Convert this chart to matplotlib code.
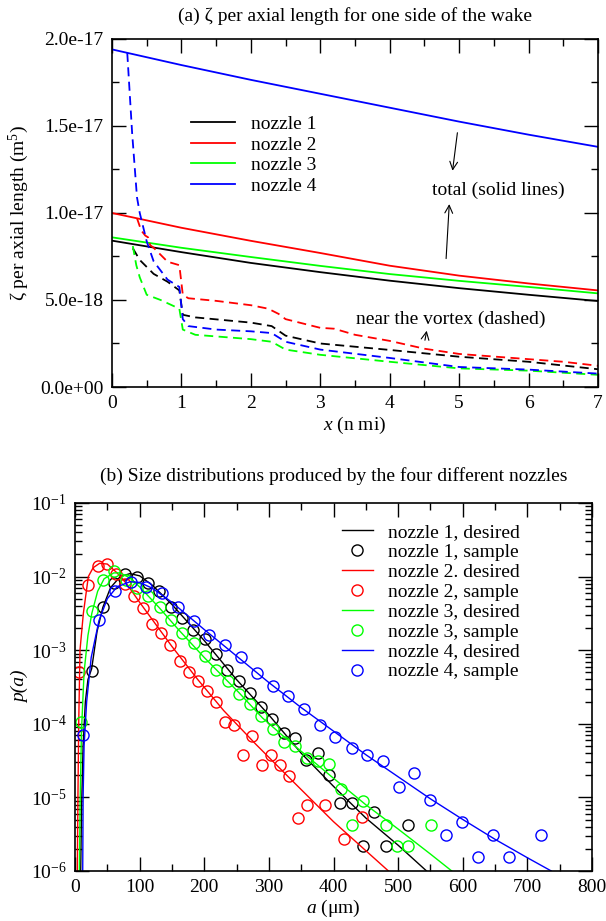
import numpy as np
import matplotlib
matplotlib.use('Agg')
import matplotlib.pyplot as plt
from matplotlib.ticker import MultipleLocator, FuncFormatter, LogLocator, NullFormatter

plt.rcParams['font.family'] = ['Liberation Serif', 'DejaVu Serif']
plt.rcParams['mathtext.fontset'] = 'custom'
plt.rcParams['mathtext.rm'] = 'Liberation Serif'
plt.rcParams['mathtext.it'] = 'Liberation Serif:italic'
plt.rcParams['axes.unicode_minus'] = False
plt.rcParams['font.size'] = 14

# ---------------------------------------------------------------
# (a) zeta per axial length, values in units of 1e-18 m^5
# ---------------------------------------------------------------
x_tot = [0, 1, 2, 3, 4, 5, 6, 7]
tot_n1 = [8.41, 7.75, 7.13, 6.60, 6.11, 5.68, 5.30, 4.94]
tot_n2 = [10.0, 9.15, 8.40, 7.70, 6.97, 6.40, 5.95, 5.55]
tot_n3 = [8.60, 8.00, 7.47, 6.96, 6.49, 6.10, 5.75, 5.38]
tot_n4 = [19.4, 18.5, 17.65, 16.85, 16.05, 15.25, 14.5, 13.8]

x_vor_n1 = [0.30, 0.40, 0.60, 0.80, 0.97, 1.02, 1.20, 2.00, 2.30, 2.50, 3.00, 4.00, 5.00, 6.00, 7.00]
vor_n1 = [7.97, 7.30, 6.50, 6.05, 5.55, 4.15, 4.00, 3.70, 3.50, 2.95, 2.50, 2.13, 1.74, 1.45, 1.02]
x_vor_n2 = [0.36, 0.42, 0.48, 0.52, 0.55, 0.60, 0.80, 0.97, 1.02, 1.10, 1.50, 2.00, 2.25, 2.40,
            2.50, 3.00, 3.20, 3.50, 4.00, 4.50, 5.00, 5.50, 6.00, 6.50, 7.00]
vor_n2 = [9.70, 9.00, 8.70, 8.60, 8.15, 8.00, 7.20, 7.00, 5.30, 5.10, 4.95, 4.70, 4.50, 4.20,
          3.90, 3.40, 3.35, 3.00, 2.65, 2.20, 1.90, 1.75, 1.60, 1.45, 1.22]
x_vor_n3 = [0.30, 0.35, 0.40, 0.50, 0.70, 0.97, 1.02, 1.20, 2.00, 2.30, 2.50, 3.00, 4.00, 5.00, 6.00, 7.00]
vor_n3 = [8.10, 7.00, 6.30, 5.30, 5.00, 4.50, 3.30, 3.00, 2.75, 2.60, 2.15, 1.85, 1.45, 1.07, 0.94, 0.70]
x_vor_n4 = [0.22, 0.29, 0.36, 0.40, 0.50, 0.60, 0.80, 0.97, 1.02, 1.10, 1.50, 2.00, 2.30, 2.40,
            2.50, 3.00, 4.00, 5.00, 6.00, 7.00]
vor_n4 = [19.2, 14.6, 10.9, 10.0, 8.37, 7.22, 6.17, 5.75, 3.90, 3.50, 3.30, 3.20, 3.10, 2.85,
          2.60, 2.15, 1.67, 1.15, 1.00, 0.77]

# ---------------------------------------------------------------
# (b) size distributions, p(a) given as log10 values
# ---------------------------------------------------------------
des_a_n1 = [8.8, 10, 12.5, 16, 20, 25.8, 34, 43, 55, 70, 85, 100, 120, 150, 200, 250, 300, 350, 400, 450, 500, 544]
des_lp_n1 = [-6.0, -5.2, -4.3, -3.7, -3.4, -3.25, -2.75, -2.42, -2.15, -2.0, -1.96, -1.99, -2.12, -2.38,
             -2.87, -3.40, -3.88, -4.40, -4.85, -5.28, -5.65, -6.0]
des_a_n2 = [3.5, 4.5, 5.7, 7.7, 12.9, 20.6, 28, 38, 50, 65, 80, 100, 125, 150, 190, 230, 280, 330, 400, 485]
des_lp_n2 = [-6.0, -5.0, -4.0, -3.0, -2.5, -2.0, -1.88, -1.82, -1.83, -1.95, -2.10, -2.35, -2.65, -2.95,
             -3.40, -3.82, -4.28, -4.72, -5.33, -6.0]
des_a_n3 = [6.7, 8, 10, 14, 20, 26, 35, 45, 60, 70, 85, 100, 130, 160, 200, 254, 290, 333, 400, 450, 500, 550, 583]
des_lp_n3 = [-6.0, -5.0, -4.1, -3.3, -2.8, -2.5, -2.2, -2.03, -1.95, -1.95, -2.02, -2.14, -2.42, -2.72,
             -3.10, -3.58, -3.92, -4.25, -4.74, -5.10, -5.43, -5.77, -6.0]
des_a_n4 = [11.9, 12.5, 14, 18, 25, 37, 50, 65, 85, 100, 120, 150, 200, 250, 300, 350, 400, 450, 500,
            550, 600, 650, 700, 737]
des_lp_n4 = [-6.0, -5.0, -4.3, -3.7, -3.1, -2.6, -2.3, -2.14, -2.07, -2.08, -2.16, -2.35, -2.72, -3.08,
             -3.44, -3.78, -4.10, -4.42, -4.72, -5.02, -5.30, -5.57, -5.82, -6.0]

smp_a_n1 = [25.8, 43, 60.5, 78, 95.5, 113, 130.5, 148, 165.5, 183, 200.5, 218, 235.5, 253, 270.5, 288,
            305.5, 323, 340.5, 358, 375.5, 393, 410.5, 428, 445.5, 463, 480.5, 515.5]
smp_lp_n1 = [-3.28, -2.41, -2.09, -1.97, -2.01, -2.09, -2.20, -2.41, -2.56, -2.72, -2.85, -3.05, -3.27,
             -3.42, -3.58, -3.77, -3.93, -4.12, -4.19, -4.49, -4.40, -4.70, -5.07, -5.07, -5.66, -5.20,
             -5.66, -5.37]
smp_a_n2 = [6.7, 20.8, 34.9, 49, 63.1, 77.2, 91.3, 105.4, 119.5, 133.6, 147.7, 161.8, 175.9, 190, 204.1,
            218.2, 232.3, 246.4, 260.5, 274.6, 288.7, 302.8, 316.9, 331, 345.1, 359.2, 387.4, 415.6, 443.8]
smp_lp_n2 = [-3.29, -2.11, -1.85, -1.83, -1.96, -2.10, -2.27, -2.43, -2.64, -2.77, -2.93, -3.15, -3.30,
             -3.42, -3.56, -3.71, -3.97, -4.02, -4.43, -4.17, -4.56, -4.42, -4.56, -4.71, -5.28, -5.10,
             -5.10, -5.57, -5.27]
smp_a_n3 = [9.5, 26, 43.5, 61, 78.5, 96, 113.5, 131, 148.5, 166, 183.5, 201, 218.5, 236, 253.5, 271,
            288.5, 306, 323.5, 341, 358.5, 376, 393.5, 411, 428.5, 446, 481, 498.5, 516, 551]
smp_lp_n3 = [-3.98, -2.47, -2.04, -1.93, -2.04, -2.16, -2.27, -2.42, -2.59, -2.76, -2.90, -3.08, -3.27,
             -3.42, -3.59, -3.73, -3.90, -4.07, -4.25, -4.30, -4.46, -4.51, -4.55, -4.88, -5.37, -5.05,
             -5.37, -5.66, -5.66, -5.37]
smp_a_n4 = [12.9, 37.3, 61.7, 86, 110.5, 135, 159, 183.7, 208, 232.5, 257, 281, 306, 330, 354.5, 379,
            403, 428, 452, 476.5, 501, 525, 550, 574, 599, 623, 647, 672, 721]
smp_lp_n4 = [-4.15, -2.59, -2.19, -2.07, -2.14, -2.23, -2.41, -2.60, -2.79, -2.93, -3.09, -3.31, -3.49,
             -3.62, -3.80, -4.01, -4.18, -4.33, -4.43, -4.51, -4.86, -4.67, -5.04, -5.51, -5.34, -5.81,
             -5.51, -5.81, -5.51]

colors = ['black', 'red', '#00ff00', 'blue']

fig = plt.figure(figsize=(6.06, 9.21), dpi=100)
ax1 = fig.add_axes([0.1848, 0.5798, 0.802, 0.3779])
ax2 = fig.add_axes([0.1238, 0.0543, 0.8531, 0.3996])

# ----------------------------- (a) -----------------------------
sc = 1e-18
tots = [tot_n1, tot_n2, tot_n3, tot_n4]
vx = [x_vor_n1, x_vor_n2, x_vor_n3, x_vor_n4]
vy = [vor_n1, vor_n2, vor_n3, vor_n4]
for i in range(4):
    ax1.plot(x_tot, np.array(tots[i]) * sc, color=colors[i], lw=1.3, label='nozzle %d' % (i + 1))
for i in range(4):
    ax1.plot(vx[i], np.array(vy[i]) * sc, color=colors[i], lw=1.3, dashes=(5, 3))

ax1.set_xlim(0, 7)
ax1.set_ylim(0, 2e-17)
ax1.xaxis.set_major_locator(MultipleLocator(1))
ax1.xaxis.set_minor_locator(MultipleLocator(0.5))
ax1.yaxis.set_major_locator(MultipleLocator(5e-18))
ax1.yaxis.set_minor_locator(MultipleLocator(2.5e-18))
ax1.yaxis.set_major_formatter(FuncFormatter(lambda v, p: '%.1e' % v))
ax1.yaxis.get_offset_text().set_visible(False)
ax1.set_title('(a) ζ per axial length for one side of the wake', fontsize=14, pad=13)
ax1.set_xlabel('$x$ (n mi)')
ax1.set_ylabel('ζ per axial length (m$^5$)')
ax1.xaxis.set_label_coords(0.5, -0.08)
ax1.yaxis.set_label_coords(-0.167, 0.5)
ax1.legend(loc='upper left', bbox_to_anchor=(0.162, 0.78), frameon=False, borderpad=0,
           borderaxespad=0, handlelength=2.3, handletextpad=0.8, labelspacing=0.15)

ax1.text(5.56, 11.3e-18, 'total (solid lines)', ha='center', va='center')
ax1.annotate('', xy=(4.90, 12.27e-18), xytext=(4.98, 14.77e-18),
             arrowprops=dict(arrowstyle='->', color='black', lw=0.8))
ax1.annotate('', xy=(4.86, 10.67e-18), xytext=(4.81, 7.22e-18),
             arrowprops=dict(arrowstyle='->', color='black', lw=0.8))
ax1.text(4.88, 3.87e-18, 'near the vortex (dashed)', ha='center', va='center')
ax1.annotate('', xy=(4.54, 3.39e-18), xytext=(4.50, 2.53e-18),
             arrowprops=dict(arrowstyle='->', color='black', lw=0.8))

# ----------------------------- (b) -----------------------------
des_a = [des_a_n1, des_a_n2, des_a_n3, des_a_n4]
des_lp = [des_lp_n1, des_lp_n2, des_lp_n3, des_lp_n4]
smp_a = [smp_a_n1, smp_a_n2, smp_a_n3, smp_a_n4]
smp_lp = [smp_lp_n1, smp_lp_n2, smp_lp_n3, smp_lp_n4]
des_names = ['nozzle 1, desired', 'nozzle 2. desired', 'nozzle 3, desired', 'nozzle 4, desired']
for i in range(4):
    ax2.plot(des_a[i], 10.0 ** np.array(des_lp[i]), color=colors[i], lw=1.0, label=des_names[i])
    ax2.plot(smp_a[i], 10.0 ** np.array(smp_lp[i]), ls='none', marker='o', ms=8, mfc='none',
             mec=colors[i], mew=1.0, label='nozzle %d, sample' % (i + 1))

ax2.set_yscale('log')
ax2.set_xlim(0, 800)
ax2.set_ylim(1e-6, 1e-1)
ax2.xaxis.set_major_locator(MultipleLocator(100))
ax2.xaxis.set_minor_locator(MultipleLocator(50))
ax2.yaxis.set_major_locator(LogLocator(base=10, numticks=10))
ax2.yaxis.set_minor_locator(LogLocator(base=10, subs=np.arange(2, 10), numticks=20))
ax2.yaxis.set_minor_formatter(NullFormatter())
ax2.set_title('(b) Size distributions produced by the four different nozzles', fontsize=14, pad=16)
ax2.set_xlabel('$a$ (μm)')
ax2.set_ylabel('p(a)', fontstyle='italic')
ax2.xaxis.set_label_coords(0.5, -0.072)
ax2.yaxis.set_label_coords(-0.089, 0.5)
ax2.legend(loc='upper left', bbox_to_anchor=(0.516, 0.945), frameon=False, borderpad=0,
           borderaxespad=0, handlelength=1.6, handletextpad=0.8, labelspacing=0.12)

for ax in (ax1, ax2):
    ax.tick_params(which='both', direction='in', top=True, right=True, labelsize=14, pad=6)
    ax.tick_params(which='major', length=10, width=1)
    ax.tick_params(which='minor', length=5, width=1)
    for s in ax.spines.values():
        s.set_linewidth(1.2)

fig.savefig('out.png', dpi=100)
